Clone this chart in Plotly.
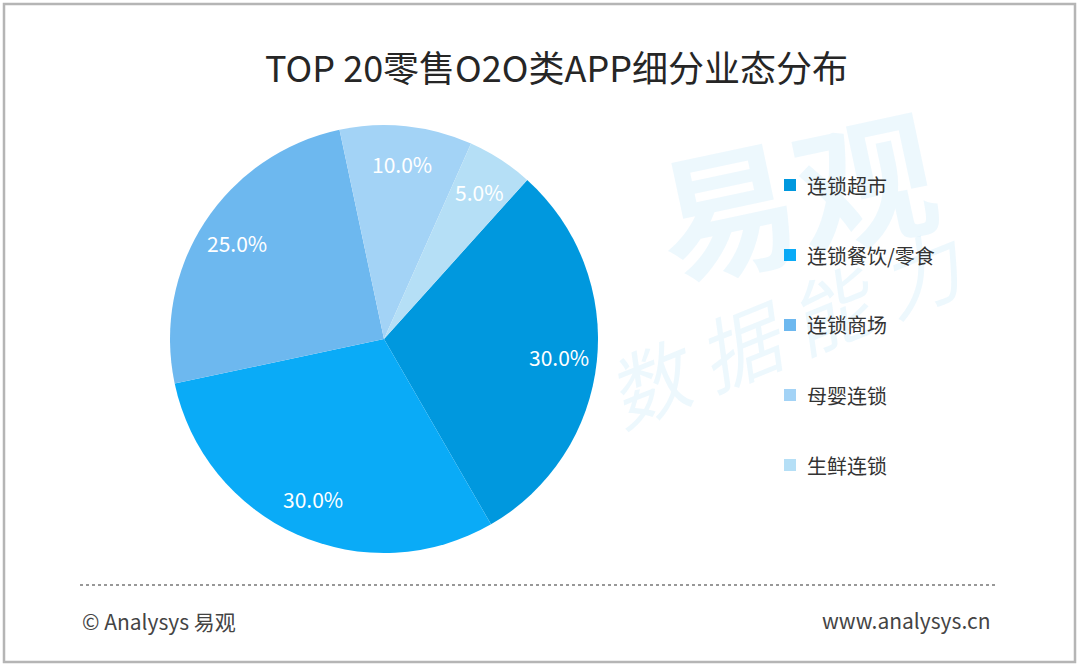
import numpy as np
import plotly.graph_objects as go

# ---- data ----
categories = ["连锁超市", "连锁餐饮/零食", "连锁商场", "母婴连锁", "生鲜连锁"]
values = [30.0, 30.0, 25.0, 10.0, 5.0]
colors = ["#0098DE", "#0AABF7", "#6DB8EF", "#A3D3F6", "#B5DFF6"]
title_text = "TOP 20零售O2O类APP细分业态分布"
footer_left = "© Analysys 易观"
footer_right = "www.analysys.cn"

W, H = 1080, 669
FONT = "Noto Sans CJK SC"

# pie geometry (pixels)
cx, cy, R = 384, 339, 214
rotation = 42

fig = go.Figure()
fig.add_trace(go.Pie(
    labels=categories, values=values, sort=False, direction="clockwise",
    rotation=rotation, marker=dict(colors=colors, line=dict(width=0)),
    textinfo="none", hoverinfo="label+percent", showlegend=False,
    domain=dict(x=[(cx - R) / W, (cx + R) / W],
                y=[(H - cy - R) / H, (H - cy + R) / H]),
))

annotations = []
# faint watermark
annotations.append(dict(x=795 / W, y=1 - 190 / H, xref="paper", yref="paper",
                        xanchor="center", yanchor="middle",
                        text="<b>易观</b>", showarrow=False, textangle=-12,
                        font=dict(family=FONT, size=140, color="rgba(0,150,220,0.07)")))
annotations.append(dict(x=785 / W, y=1 - 325 / H, xref="paper", yref="paper",
                        xanchor="center", yanchor="middle",
                        text="<i>数 据 能 力</i>", showarrow=False, textangle=-22,
                        font=dict(family=FONT, size=80, color="rgba(0,150,220,0.07)")))

# percentage labels placed at 0.82 radius on slice mid-angle
total = sum(values)
cum = np.cumsum([0] + values[:-1])
for v, c0 in zip(values, cum):
    mid = np.deg2rad(rotation + (c0 + v / 2) / total * 360)
    r = 0.82 * R
    px = cx + r * np.sin(mid)
    py = cy - r * np.cos(mid)
    annotations.append(dict(
        x=px / W, y=1 - py / H, xref="paper", yref="paper",
        text=f"{v / total * 100:.1f}%", showarrow=False,
        font=dict(family=FONT, size=21, color="white"),
        xanchor="center", yanchor="middle"))

# title
annotations.append(dict(x=556 / W, y=1 - 66 / H, xref="paper", yref="paper",
                        text=title_text, showarrow=False,
                        font=dict(family=FONT, size=36, color="#262626"),
                        xanchor="center", yanchor="middle"))

# legend (custom)
shapes = []
leg_x, leg_y0, leg_dy = 790, 185, 70
for i, (cat, col) in enumerate(zip(categories, colors)):
    y = leg_y0 + i * leg_dy
    shapes.append(dict(type="rect", xref="paper", yref="paper",
                       x0=(leg_x - 6) / W, x1=(leg_x + 6) / W,
                       y0=1 - (y + 6) / H, y1=1 - (y - 6) / H,
                       fillcolor=col, line=dict(width=0)))
    annotations.append(dict(x=(leg_x + 15) / W, y=1 - y / H, xref="paper", yref="paper",
                            text=cat, showarrow=False, xanchor="left", yanchor="middle",
                            font=dict(family=FONT, size=20, color="#333333")))

# footer
shapes.append(dict(type="line", xref="paper", yref="paper",
                   x0=80 / W, x1=995 / W, y0=1 - 585 / H, y1=1 - 585 / H,
                   line=dict(color="#777777", width=1.5, dash="dot")))
annotations.append(dict(x=80 / W, y=1 - 621 / H, xref="paper", yref="paper",
                        text=footer_left, showarrow=False, xanchor="left", yanchor="middle",
                        font=dict(family=FONT, size=21, color="#444444")))
annotations.append(dict(x=992 / W, y=1 - 620 / H, xref="paper", yref="paper",
                        text=footer_right, showarrow=False, xanchor="right", yanchor="middle",
                        font=dict(family=FONT, size=21, color="#444444")))

# outer border
shapes.append(dict(type="rect", xref="paper", yref="paper",
                   x0=4 / W, x1=1075 / W, y0=1 - 662 / H, y1=1 - 4 / H,
                   line=dict(color="#B5B5B5", width=2.5), fillcolor="rgba(0,0,0,0)"))

fig.update_layout(
    width=W, height=H, margin=dict(l=0, r=0, t=0, b=0),
    paper_bgcolor="white", plot_bgcolor="white",
    annotations=annotations, shapes=shapes, showlegend=False,
)
fig.write_html("out.html", config={"displayModeBar": False},
               post_script="document.body.style.margin='0';document.body.style.overflow='hidden';")
